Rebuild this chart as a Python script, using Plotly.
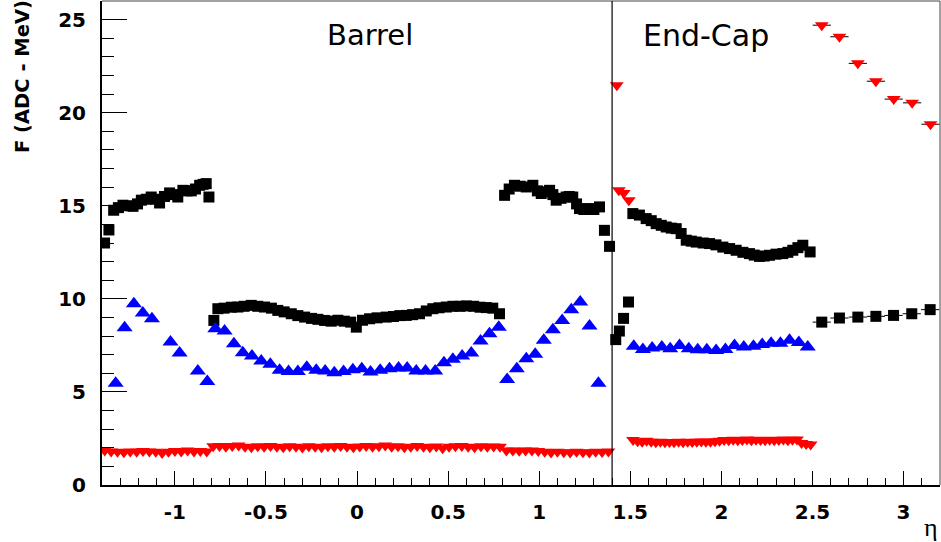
import plotly.graph_objects as go

# ---------------- data ----------------
# Black squares
blk_bl_eta = [-1.386, -1.362, -1.336, -1.31, -1.285, -1.257, -1.23, -1.205, -1.184, -1.157,
              -1.13, -1.105, -1.084, -1.057, -1.029, -1.005, -0.984, -0.956, -0.933, -0.91,
              -0.887, -0.864, -0.845, -0.828, -0.813]
blk_bl_F = [13.0, 13.7, 14.76, 14.9, 15.03, 15.0, 14.97, 15.1, 15.3, 15.35,
            15.47, 15.35, 15.15, 15.5, 15.69, 15.6, 15.47, 15.83, 15.8, 15.8,
            15.9, 16.1, 16.15, 16.19, 15.47]
blk_bc_eta = [-0.786, -0.764, -0.73, -0.69, -0.654, -0.62, -0.581, -0.545, -0.508, -0.47,
              -0.435, -0.4, -0.361, -0.325, -0.288, -0.25, -0.215, -0.178, -0.142, -0.105,
              -0.07, -0.035, -0.004, 0.03, 0.069, 0.11, 0.16, 0.2, 0.235, 0.27,
              0.305, 0.343, 0.38, 0.416, 0.45, 0.49, 0.526, 0.565, 0.6, 0.64,
              0.675, 0.709, 0.745, 0.782]
blk_bc_F = [8.84, 9.47, 9.5, 9.55, 9.56, 9.6, 9.65, 9.6, 9.56, 9.5,
            9.38, 9.3, 9.2, 9.1, 9.02, 8.95, 8.9, 8.84, 8.8, 8.85,
            8.8, 8.75, 8.48, 8.85, 8.93, 8.98, 9.02, 9.05, 9.1, 9.11,
            9.15, 9.2, 9.35, 9.47, 9.52, 9.56, 9.6, 9.6, 9.62, 9.6,
            9.55, 9.53, 9.5, 9.2]
blk_br_eta = [0.81, 0.835, 0.864, 0.895, 0.929, 0.965, 0.99, 1.011, 1.035, 1.057,
              1.075, 1.093, 1.12, 1.148, 1.165, 1.184, 1.205, 1.221, 1.245, 1.276,
              1.3, 1.331, 1.358, 1.386]
blk_br_F = [15.56, 15.9, 16.1, 16.05, 16.01, 16.1, 15.8, 15.66, 15.75, 15.83,
            15.6, 15.3, 15.4, 15.47, 15.5, 15.47, 15.1, 14.85, 14.8, 14.85,
            14.8, 14.94, 13.68, 12.82]
blk_el_eta = [1.42, 1.44, 1.463, 1.49]
blk_el_F = [7.81, 8.27, 8.95, 9.83]
blk_ec_eta = [1.514, 1.55, 1.587, 1.615, 1.642, 1.67, 1.697, 1.725, 1.752, 1.779,
              1.807, 1.835, 1.862, 1.9, 1.935, 1.97, 2.008, 2.045, 2.081, 2.118,
              2.154, 2.18, 2.209, 2.235, 2.264, 2.3, 2.337, 2.365, 2.392, 2.42,
              2.447, 2.487]
blk_ec_F = [14.58, 14.5, 14.31, 14.2, 14.04, 13.95, 13.86, 13.8, 13.77, 13.51,
            13.15, 13.1, 13.05, 13.0, 12.97, 12.9, 12.78, 12.7, 12.61, 12.5,
            12.43, 12.35, 12.28, 12.3, 12.34, 12.4, 12.43, 12.5, 12.61, 12.75,
            12.88, 12.52]
blk_fw_eta = [2.551, 2.648, 2.749, 2.848, 2.945, 3.045, 3.146]
blk_fw_F = [8.75, 8.97, 9.02, 9.06, 9.11, 9.20, 9.42]
blk_fw_err = [0.05, 0.05, 0.05, 0.05, 0.05, 0.05, 0.05]

# Blue up-triangles
blu_b_eta = [-1.325, -1.276, -1.225, -1.176, -1.126, -1.024, -0.974, -0.874, -0.822, -0.778,
             -0.727, -0.676, -0.627, -0.577, -0.526, -0.476, -0.425, -0.376, -0.325, -0.276,
             -0.224, -0.175, -0.125, -0.074, -0.023, 0.026, 0.074, 0.127, 0.178, 0.228,
             0.275, 0.325, 0.376, 0.429, 0.477, 0.526, 0.577, 0.627, 0.678, 0.727,
             0.778, 0.824, 0.877, 0.929, 0.978, 1.025, 1.075, 1.126, 1.176, 1.225,
             1.276, 1.325]
blu_b_F = [5.47, 8.45, 9.74, 9.24, 8.93, 7.68, 7.09, 6.12, 5.56, 8.40,
           8.27, 7.59, 7.11, 6.93, 6.66, 6.48, 6.16, 6.10, 6.10, 6.33,
           6.16, 6.12, 6.03, 6.10, 6.19, 6.25, 6.07, 6.16, 6.25, 6.28,
           6.28, 6.12, 6.12, 6.12, 6.57, 6.75, 6.93, 7.09, 7.73, 8.13,
           8.48, 5.67, 6.25, 6.78, 7.02, 7.77, 8.34, 8.84, 9.42, 9.83,
           8.54, 5.47]
blu_e_eta = [1.519, 1.569, 1.620, 1.673, 1.719, 1.770, 1.821, 1.870, 1.920, 1.971,
             2.022, 2.072, 2.123, 2.176, 2.224, 2.273, 2.324, 2.374, 2.425, 2.474]
blu_e_F = [7.46, 7.28, 7.36, 7.41, 7.32, 7.50, 7.32, 7.27, 7.27, 7.23,
           7.28, 7.50, 7.41, 7.46, 7.55, 7.62, 7.62, 7.77, 7.65, 7.41]

# Red down-triangles
red_b_eta = [-1.385, -1.35, -1.315, -1.28, -1.245, -1.21, -1.175, -1.14, -1.105, -1.07,
             -1.035, -1.0, -0.965, -0.93, -0.895, -0.86, -0.825,
             -0.79, -0.755, -0.72, -0.685, -0.65, -0.615, -0.58, -0.545, -0.51, -0.475,
             -0.44, -0.405, -0.37, -0.335, -0.3, -0.265, -0.23, -0.195, -0.16, -0.125,
             -0.09, -0.055, -0.02, 0.015, 0.05, 0.085, 0.12, 0.155, 0.19, 0.225,
             0.26, 0.295, 0.33, 0.365, 0.4, 0.435, 0.47, 0.505, 0.54, 0.575,
             0.61, 0.645, 0.68, 0.715, 0.75, 0.785,
             0.82, 0.855, 0.89, 0.925, 0.96, 0.995, 1.03, 1.065, 1.1, 1.135,
             1.17, 1.205, 1.24, 1.275, 1.31, 1.345, 1.38]
red_b_F = [1.85, 1.80, 1.78, 1.76, 1.80, 1.78, 1.82, 1.80, 1.78, 1.72,
           1.78, 1.82, 1.80, 1.85, 1.80, 1.83, 1.80,
           2.08, 2.10, 2.05, 2.10, 2.12, 2.05, 2.03, 2.08, 2.05, 2.10,
           2.05, 2.03, 2.08, 2.05, 2.02, 2.08, 2.05, 2.03, 2.08, 2.05,
           2.10, 2.05, 2.03, 2.07, 2.10, 2.05, 2.08, 2.12, 2.05, 2.08,
           2.03, 2.05, 2.10, 2.05, 2.03, 2.07, 1.98, 2.05, 2.08, 2.10,
           2.05, 2.03, 2.08, 2.05, 2.07, 2.05,
           1.86, 1.85, 1.84, 1.86, 1.85, 1.83, 1.78, 1.75, 1.78, 1.76,
           1.74, 1.78, 1.76, 1.75, 1.78, 1.77, 1.80]
red_eh_eta = [1.426, 1.437, 1.464, 1.492]
red_eh_F = [21.48, 15.83, 15.69, 15.30]
red_e_eta = [1.515, 1.54, 1.565, 1.59, 1.615, 1.64, 1.665, 1.69, 1.715, 1.74,
             1.765, 1.79, 1.815, 1.84, 1.865, 1.89, 1.915, 1.94, 1.965, 1.99,
             2.015, 2.04, 2.065, 2.09, 2.115, 2.14, 2.165, 2.19, 2.215, 2.24,
             2.265, 2.29, 2.315, 2.34, 2.365, 2.39, 2.415, 2.44, 2.465, 2.49]
red_e_F = [2.42, 2.35, 2.33, 2.38, 2.32, 2.30, 2.32, 2.30, 2.31, 2.30,
           2.32, 2.30, 2.33, 2.31, 2.32, 2.34, 2.32, 2.33, 2.35, 2.38,
           2.42, 2.40, 2.43, 2.41, 2.42, 2.44, 2.40, 2.43, 2.42, 2.41,
           2.43, 2.40, 2.42, 2.44, 2.40, 2.43, 2.45, 2.25, 2.20, 2.18]
red_fw_eta = [2.551, 2.648, 2.749, 2.848, 2.946, 3.047, 3.148]
red_fw_F = [24.70, 24.08, 22.65, 21.69, 20.73, 20.53, 19.38]
red_fw_err = [0.05, 0.05, 0.05, 0.05, 0.05, 0.05, 0.05]

x_tickvals = [-1, -0.5, 0, 0.5, 1, 1.5, 2, 2.5, 3]
x_ticktext = ["-1", "-0.5", "0", "0.5", "1", "1.5", "2", "2.5", "3"]
boundary_eta = 1.4

# ---------------- figure ----------------
fig = go.Figure()

def add(xs, ys, color, symbol, size, err=None):
    kw = {}
    if err is not None:
        kw["error_x"] = dict(type="data", array=err, visible=True, color="black",
                             thickness=1, width=0)
    fig.add_trace(go.Scatter(x=xs, y=ys, mode="markers",
                             marker=dict(color=color, symbol=symbol, size=size,
                                         line=dict(width=0)),
                             showlegend=False, **kw))

BLK, BLU, RED = "#000000", "#0000ff", "#ff0000"
add(blk_bl_eta, blk_bl_F, BLK, "square", 11)
add(blk_bc_eta, blk_bc_F, BLK, "square", 11)
add(blk_br_eta, blk_br_F, BLK, "square", 11)
add(blk_el_eta, blk_el_F, BLK, "square", 11)
add(blk_ec_eta, blk_ec_F, BLK, "square", 11)
add(blk_fw_eta, blk_fw_F, BLK, "square", 11, blk_fw_err)
add(blu_b_eta, blu_b_F, BLU, "triangle-up", 14)
add(blu_e_eta, blu_e_F, BLU, "triangle-up", 14)
add(red_b_eta, red_b_F, RED, "triangle-down", 12)
add(red_eh_eta, red_eh_F, RED, "triangle-down", 12)
add(red_e_eta, red_e_F, RED, "triangle-down", 12)
add(red_fw_eta, red_fw_F, RED, "triangle-down", 12, red_fw_err)

tickfont = dict(family="DejaVu Sans", size=20, color="black", weight="bold")

fig.update_layout(
    width=941, height=542,
    margin=dict(l=102, r=1, t=1, b=57),
    paper_bgcolor="white", plot_bgcolor="white",
    xaxis=dict(range=[-1.4, 3.2], showgrid=False, zeroline=False,
               showline=True, linecolor="black", linewidth=2, mirror=False,
               tickmode="array", tickvals=x_tickvals, ticktext=x_ticktext,
               ticks="inside", ticklen=14, tickwidth=1.3, tickcolor="black",
               tickfont=tickfont, ticklabelstandoff=8,
               minor=dict(tickmode="linear", tick0=0, dtick=0.1, ticks="inside",
                          ticklen=7, tickwidth=1.3, tickcolor="black")),
    yaxis=dict(range=[0, 26], showgrid=False, zeroline=False,
               showline=True, linecolor="black", linewidth=2, mirror=False,
               tickmode="linear", tick0=0, dtick=5,
               ticks="inside", ticklen=25, tickwidth=1.3, tickcolor="black",
               tickfont=tickfont, ticklabelstandoff=10,
               minor=dict(tickmode="linear", tick0=0, dtick=1, ticks="inside",
                          ticklen=12, tickwidth=1.3, tickcolor="black")),
)

# frame top/right
fig.add_shape(type="line", xref="paper", yref="paper", x0=0, x1=1, y0=1, y1=1,
              line=dict(color="#444444", width=1))
fig.add_shape(type="line", xref="paper", yref="paper", x0=1, x1=1, y0=0, y1=1,
              line=dict(color="#444444", width=1))
# barrel / end-cap boundary
fig.add_shape(type="line", xref="x", yref="paper", x0=boundary_eta, x1=boundary_eta,
              y0=0, y1=1, line=dict(color="black", width=1.2))

fig.add_annotation(text="Barrel", x=0.069, y=24.15, xref="x", yref="y",
                   showarrow=False, xanchor="center", yanchor="middle",
                   font=dict(family="DejaVu Sans", size=29, color="black"))
fig.add_annotation(text="End-Cap", x=1.917, y=24.15, xref="x", yref="y",
                   showarrow=False, xanchor="center", yanchor="middle",
                   font=dict(family="DejaVu Sans", size=30, color="black"))
fig.add_annotation(text="F (ADC - MeV)", x=-0.0955, y=0.845, xref="paper", yref="paper",
                   showarrow=False, textangle=-90, xanchor="center", yanchor="middle",
                   font=dict(family="DejaVu Sans", size=19.5, color="black", weight="bold"))
fig.add_annotation(text="η", x=1.0, y=-0.087, xref="paper", yref="paper",
                   showarrow=False, xanchor="right", yanchor="middle",
                   font=dict(family="Liberation Serif", size=26, color="black"))

fig.write_html("out.html")
